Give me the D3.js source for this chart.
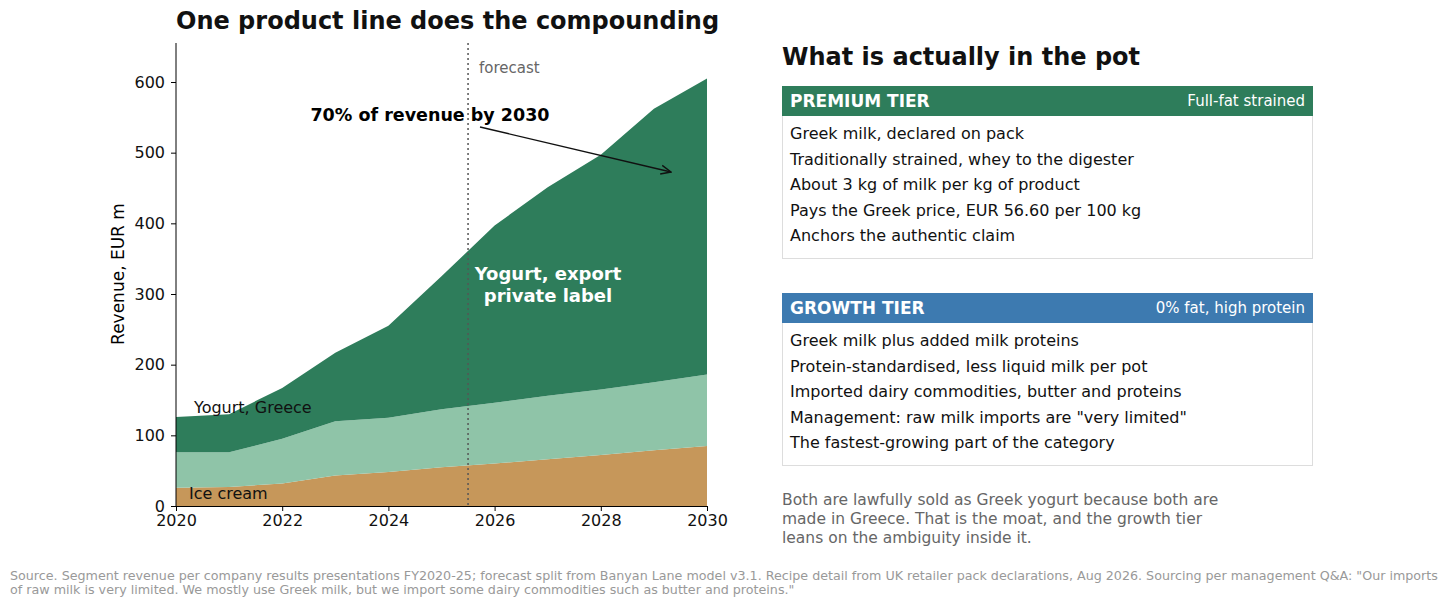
<!DOCTYPE html>
<html><head><meta charset="utf-8">
<script src="https://cdn.jsdelivr.net/npm/d3@7"></script>
<style>body{margin:0;background:#fff;font-family:"DejaVu Sans",sans-serif}</style>
</head><body><svg id="c" width="1456" height="607"></svg>
<script>
var years = [2020,2021,2022,2023,2024,2025,2026,2027,2028,2029,2030];
var iceCream = [26,27,32,43,48,55,60,66,72,79,85];
var yogurtGreece = [50,49,63,77,77,82,86,90,93,96,101];
var yogurtExport = [50,54,72,97,130,188,251,295,332,387,419];
var yTicks = [0,100,200,300,400,500,600];
var xTicks = [2020,2022,2024,2026,2028,2030];
var premiumLines = ["Greek milk, declared on pack","Traditionally strained, whey to the digester","About 3 kg of milk per kg of product","Pays the Greek price, EUR 56.60 per 100 kg","Anchors the authentic claim"];
var growthLines = ["Greek milk plus added milk proteins","Protein-standardised, less liquid milk per pot","Imported dairy commodities, butter and proteins","Management: raw milk imports are \"very limited\"","The fastest-growing part of the category"];

var svg = d3.select("#c");
var x = d3.scaleLinear().domain([2020,2030]).range([176,707]);
var y = d3.scaleLinear().domain([0,600]).range([506,82]);

var rows = years.map(function(yr,i){return {year:yr, ice:iceCream[i], greece:yogurtGreece[i], exp:yogurtExport[i]};});
var stack = d3.stack().keys(["ice","greece","exp"])(rows);
var colors = {ice:"#c6975a", greece:"#8fc4a8", exp:"#2e7d5b"};
var area = d3.area().x(function(d){return x(d.data.year);}).y0(function(d){return y(d[0]);}).y1(function(d){return y(d[1]);});
svg.selectAll("path.layer").data(stack).enter().append("path")
  .attr("d", area).attr("fill", function(d){return colors[d.key];});

// axes
var xa = svg.append("g").attr("transform","translate(0,506)").call(d3.axisBottom(x).tickValues(xTicks).tickFormat(d3.format("d")).tickSizeOuter(0).tickSize(5).tickPadding(4));
var ya = svg.append("g").attr("transform","translate(176,0)").call(d3.axisLeft(y).tickValues(yTicks).tickSizeOuter(0).tickSize(5).tickPadding(6));
[xa,ya].forEach(function(a){a.selectAll("text").attr("font-size",16).attr("fill","#111").attr("font-family","DejaVu Sans");});
ya.select(".domain").attr("d","M0,43V506");
svg.append("text").attr("transform","translate(124,274) rotate(-90)").attr("text-anchor","middle").attr("font-size",17).text("Revenue, EUR m");

// forecast line
svg.append("line").attr("x1",x(2025.5)).attr("x2",x(2025.5)).attr("y1",43).attr("y2",506)
  .attr("stroke","#555").attr("stroke-dasharray","2,3").attr("stroke-width",1.5);
svg.append("text").attr("x",479).attr("y",73).attr("font-size",15).attr("fill","#666").text("forecast");

svg.append("text").attr("x",176).attr("y",29).attr("font-size",24).attr("font-weight","bold").attr("fill","#111").text("One product line does the compounding");

svg.append("defs").append("marker").attr("id","ar").attr("viewBox","0 0 10 10").attr("refX",9).attr("refY",5)
  .attr("markerWidth",8).attr("markerHeight",8).attr("orient","auto")
  .append("path").attr("d","M0,1L9,5L0,9").attr("fill","none").attr("stroke","#111").attr("stroke-width",1.3);
svg.append("line").attr("x1",480).attr("y1",127).attr("x2",671).attr("y2",172).attr("stroke","#111").attr("stroke-width",1.4).attr("marker-end","url(#ar)");
svg.append("text").attr("x",430).attr("y",121).attr("text-anchor","middle").attr("font-size",17.5).attr("font-weight","bold").text("70% of revenue by 2030");

svg.append("text").attr("x",548).attr("y",280).attr("text-anchor","middle").attr("font-size",18).attr("font-weight","bold").attr("fill","#fff").text("Yogurt, export");
svg.append("text").attr("x",548).attr("y",302).attr("text-anchor","middle").attr("font-size",18).attr("font-weight","bold").attr("fill","#fff").text("private label");
svg.append("text").attr("x",194).attr("y",413).attr("font-size",16).attr("fill","#111").text("Yogurt, Greece");
svg.append("text").attr("x",189).attr("y",499).attr("font-size",16).attr("fill","#111").text("Ice cream");

// right panel
svg.append("text").attr("x",782).attr("y",65).attr("font-size",24).attr("font-weight","bold").attr("fill","#111").text("What is actually in the pot");
function card(top, color, title, tag, lines){
  svg.append("rect").attr("x",782.5).attr("y",top+0.5).attr("width",530).attr("height",172).attr("fill","#fff").attr("stroke","#ddd");
  svg.append("rect").attr("x",782).attr("y",top).attr("width",531).attr("height",30).attr("fill",color);
  svg.append("text").attr("x",790).attr("y",top+21).attr("font-size",17).attr("font-weight","bold").attr("fill","#fff").text(title);
  svg.append("text").attr("x",1305).attr("y",top+20).attr("text-anchor","end").attr("font-size",15).attr("fill","#fff").text(tag);
  lines.forEach(function(t,i){
    svg.append("text").attr("x",790).attr("y",top+53+i*25.5).attr("font-size",16).attr("fill","#111").text(t);
  });
}
card(86,"#2e7d5b","PREMIUM TIER","Full-fat strained",premiumLines);
card(293,"#3d7ab0","GROWTH TIER","0% fat, high protein",growthLines);

["Both are lawfully sold as Greek yogurt because both are","made in Greece. That is the moat, and the growth tier","leans on the ambiguity inside it."].forEach(function(t,i){
  svg.append("text").attr("x",782).attr("y",505+i*19).attr("font-size",15.5).attr("fill","#666").text(t);
});
["Source. Segment revenue per company results presentations FY2020-25; forecast split from Banyan Lane model v3.1. Recipe detail from UK retailer pack declarations, Aug 2026. Sourcing per management Q&A: \"Our imports",
 "of raw milk is very limited. We mostly use Greek milk, but we import some dairy commodities such as butter and proteins.\""].forEach(function(t,i){
  svg.append("text").attr("x",10).attr("y",580+i*14).attr("font-size",12.7).attr("fill","#999").text(t);
});
</script></body></html>
